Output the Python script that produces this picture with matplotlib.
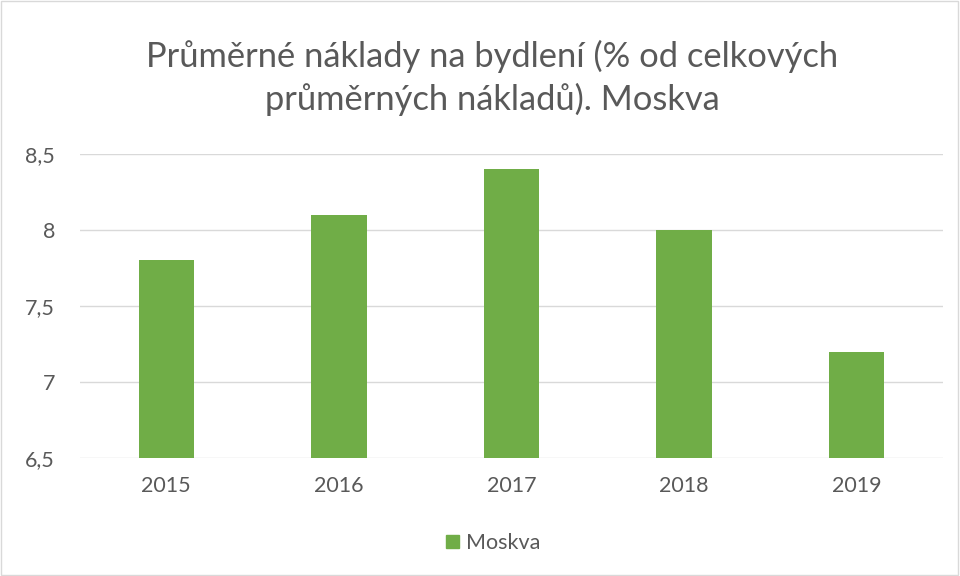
import matplotlib.pyplot as plt
import matplotlib.patches as mpatches

years = ["2015", "2016", "2017", "2018", "2019"]
values = [7.8, 8.1, 8.4, 8.0, 7.2]
yticks = [6.5, 7, 7.5, 8, 8.5]
ytick_labels = ["6,5", "7", "7,5", "8", "8,5"]

bar_color = "#70AD47"
text_color = "#595959"

plt.rcParams['font.family'] = ['Lato', 'DejaVu Sans']

fig = plt.figure(figsize=(9.6, 5.76), dpi=100)
ax = fig.add_axes([80 / 960, 1 - 458 / 576, 863 / 960, 304 / 576])

x = range(len(years))
ax.bar(x, values, width=0.32, color=bar_color, zorder=3, bottom=0)
ax.set_ylim(6.5, 8.5)
ax.set_xlim(-0.5, len(years) - 0.5)
ax.set_yticks(yticks)
ax.set_yticklabels(ytick_labels)
ax.set_xticks(list(x))
ax.set_xticklabels(years)
ax.tick_params(axis='both', length=0, labelsize=15.5, colors=text_color)
ax.tick_params(axis='x', pad=13)
ax.tick_params(axis='y', pad=18)
ax.grid(axis='y', color="#D9D9D9", linewidth=1, zorder=0)
for s in ax.spines.values():
    s.set_visible(False)

fig.text(492 / 960, 1 - 78 / 576,
         "Průměrné náklady na bydlení (% od celkových\nprůměrných nákladů). Moskva",
         ha='center', va='center', fontsize=24.8, color=text_color, linespacing=1.35)

# legend
patch = mpatches.Patch(color=bar_color, label="Moskva")
fig.legend(handles=[patch], loc='center', bbox_to_anchor=(493 / 960, 1 - 543 / 576),
           frameon=False, fontsize=15.5, labelcolor=text_color,
           handlelength=0.6, handleheight=0.6, handletextpad=0.35)

# outer border
fig.patches.append(mpatches.Rectangle((0.001, 0.001), 0.997, 0.997, transform=fig.transFigure,
                                      fill=False, edgecolor="#D9D9D9", linewidth=1))

fig.savefig("out.png", dpi=100)
